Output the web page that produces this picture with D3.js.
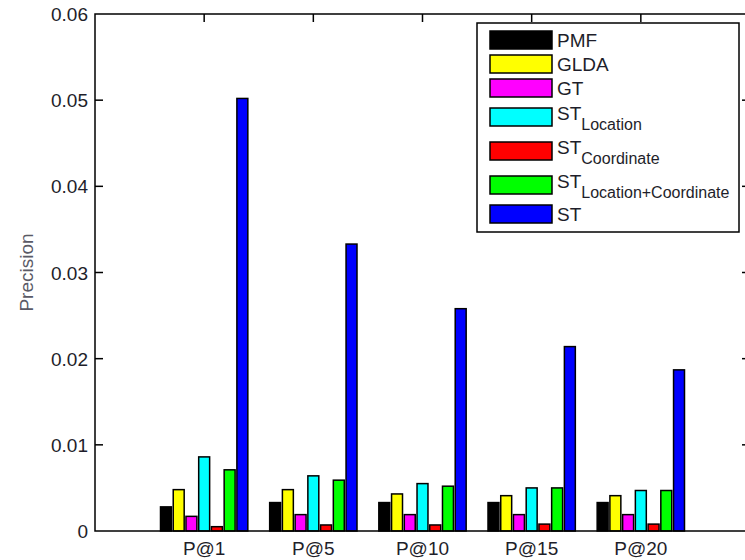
<!DOCTYPE html>
<html>
<head>
<meta charset="utf-8">
<script src="https://cdn.jsdelivr.net/npm/d3@7"></script>
<style>
  body { margin: 0; background: #fff; }
  text { font-family: "Liberation Sans", Arial, sans-serif; fill: #1e1e2a; }
</style>
</head>
<body>
<div id="container"></div>
<script>
// data
let categories = ['P@1', 'P@5', 'P@10', 'P@15', 'P@20']
let seriesNames = ['PMF', 'GLDA', 'GT', 'STLocation', 'STCoordinate', 'STLocCoord', 'ST']
let pmf = [0.0028, 0.0033, 0.0033, 0.0033, 0.0033]
let glda = [0.0048, 0.0048, 0.0043, 0.0041, 0.0041]
let gt = [0.0017, 0.0019, 0.0019, 0.0019, 0.0019]
let stLocation = [0.0086, 0.0064, 0.0055, 0.0050, 0.0047]
let stCoordinate = [0.0005, 0.0007, 0.0007, 0.0008, 0.0008]
let stLocCoord = [0.0071, 0.0059, 0.0052, 0.0050, 0.0047]
let st = [0.0502, 0.0333, 0.0258, 0.0214, 0.0187]
let yTicks = [0, 0.01, 0.02, 0.03, 0.04, 0.05, 0.06]
let legendLabels = [
  { main: 'PMF', sub: '' },
  { main: 'GLDA', sub: '' },
  { main: 'GT', sub: '' },
  { main: 'ST', sub: 'Location' },
  { main: 'ST', sub: 'Coordinate' },
  { main: 'ST', sub: 'Location+Coordinate' },
  { main: 'ST', sub: '' }
]
let colors = ['#000000', '#ffff00', '#ff00ff', '#00ffff', '#ff0000', '#00ff00', '#0000ff']

let seriesValues = [pmf, glda, gt, stLocation, stCoordinate, stLocCoord, st]

let width = 745,
  height = 560,
  margin = { top: 14, right: -5, bottom: 29, left: 95 },
  bodyWidth = width - margin.left - margin.right,
  bodyHeight = height - margin.top - margin.bottom

// categories sit at 1..5 on a 0..6 axis, like a matlab bar plot
let xScale = d3.scaleLinear().domain([0, categories.length + 1]).range([0, bodyWidth])
let groupWidth = 0.8 * (xScale(1) - xScale(0))
let xInner = d3.scaleBand().domain(seriesNames).range([-groupWidth / 2, groupWidth / 2]).paddingInner(0.14)
let yScale = d3.scaleLinear().domain([0, 0.06]).range([bodyHeight, 0])

let svg = d3.select('#container')
  .append('svg')
  .attr('width', width)
  .attr('height', height)

let g = svg.append('g')
  .attr('transform', 'translate(' + margin.left + ', ' + margin.top + ')')

let catIdx = categories.map((c, i) => i + 1)

// ticks (inward)
let tickLen = 8
let axisG = g.append('g').attr('stroke', '#000').attr('stroke-width', 1.5)
axisG.selectAll('.yl').data(yTicks.slice(1, -1)).enter().append('line')
  .attr('x1', 0).attr('x2', tickLen)
  .attr('y1', d => yScale(d)).attr('y2', d => yScale(d))
axisG.selectAll('.yr').data(yTicks.slice(1, -1)).enter().append('line')
  .attr('x1', bodyWidth).attr('x2', bodyWidth - tickLen)
  .attr('y1', d => yScale(d)).attr('y2', d => yScale(d))
axisG.selectAll('.xt').data(catIdx).enter().append('line')
  .attr('x1', d => xScale(d)).attr('x2', d => xScale(d))
  .attr('y1', 0).attr('y2', tickLen)
axisG.selectAll('.xb').data(catIdx).enter().append('line')
  .attr('x1', d => xScale(d)).attr('x2', d => xScale(d))
  .attr('y1', bodyHeight).attr('y2', bodyHeight - tickLen)

// bars
seriesNames.forEach((name, s) => {
  g.append('g')
    .selectAll('rect')
    .data(seriesValues[s])
    .enter()
    .append('rect')
    .attr('x', (d, i) => xScale(i + 1) + xInner(name))
    .attr('width', xInner.bandwidth())
    .attr('y', d => yScale(d))
    .attr('height', d => bodyHeight - yScale(d))
    .attr('fill', colors[s])
    .attr('stroke', '#000')
    .attr('stroke-width', 1.5)
})

// box
g.append('rect')
  .attr('x', 0).attr('y', 0)
  .attr('width', bodyWidth).attr('height', bodyHeight)
  .attr('fill', 'none')
  .attr('stroke', '#000')
  .attr('stroke-width', 1.5)

// tick labels
g.selectAll('.ylab').data(yTicks).enter().append('text')
  .attr('x', -7)
  .attr('y', d => yScale(d) + 7)
  .attr('text-anchor', 'end')
  .style('font-size', '19px')
  .text(d => d === 0 ? '0' : d3.format('.2f')(d))

g.selectAll('.xlab').data(categories).enter().append('text')
  .attr('x', (d, i) => xScale(i + 1))
  .attr('y', bodyHeight + 24)
  .attr('text-anchor', 'middle')
  .style('font-size', '19px')
  .text(d => d)

svg.append('text')
  .text('Precision')
  .attr('transform', 'translate(33, ' + (margin.top + bodyHeight / 2) + ') rotate(-90)')
  .attr('text-anchor', 'middle')
  .style('font-size', '19px')
  .style('fill', '#5a5a66')

// legend
let legend = svg.append('g').attr('transform', 'translate(477, 23)')
legend.append('rect')
  .attr('width', 262).attr('height', 209)
  .attr('fill', '#fff')
  .attr('stroke', '#000')
  .attr('stroke-width', 1.5)

let rowTop = 5
legendLabels.forEach((lab, i) => {
  let h = lab.sub ? 34 : 24
  let cy = rowTop + (lab.sub ? 17 : 12)
  let row = legend.append('g')
  row.append('rect')
    .attr('x', 13).attr('y', cy - 9)
    .attr('width', 62).attr('height', 18)
    .attr('fill', colors[i])
    .attr('stroke', '#000')
    .attr('stroke-width', 1.5)
  let t = row.append('text')
    .attr('x', 80)
    .attr('y', lab.sub ? cy + 3 : cy + 7)
    .style('font-size', '19px')
    .text(lab.main)
  if (lab.sub) {
    t.append('tspan')
      .attr('dy', 10)
      .style('font-size', '16px')
      .text(lab.sub)
  }
  rowTop += h
})
</script>
</body>
</html>
